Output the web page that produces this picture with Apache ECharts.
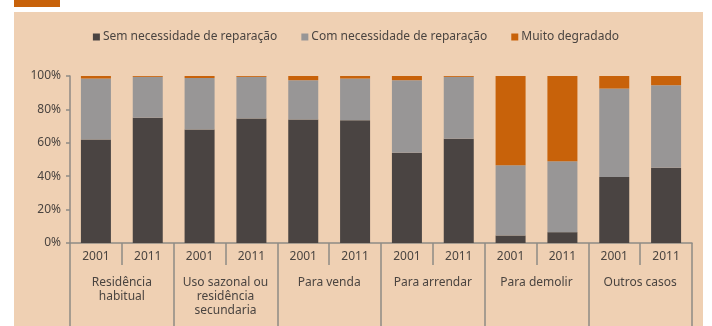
<!DOCTYPE html>
<html><head><meta charset="utf-8">
<script src="https://cdn.jsdelivr.net/npm/echarts@6/dist/echarts.min.js"></script>
<style>html,body{margin:0;padding:0;background:#fff}#c{width:712px;height:326px}</style>
</head><body><div id="c"></div>
<script>
const years = ['2001','2011','2001','2011','2001','2011','2001','2011','2001','2011','2001','2011'];
const groups = ['Residência\nhabitual','Uso sazonal ou\nresidência\nsecundaria','Para venda','Para arrendar','Para demolir','Outros casos'];
const seriesNames = ['Sem necessidade de reparação','Com necessidade de reparação','Muito degradado'];
const semReparacao = [62, 75, 68, 74.5, 74, 73.5, 54, 62.5, 4.5, 6.5, 39.5, 45];
const comReparacao = [36.5, 24.5, 30.8, 25, 23.5, 25, 43.5, 37, 42, 42.5, 53, 49.5];
const muitoDegradado = [1.5, 0.5, 1.2, 0.5, 2.5, 1.5, 2.5, 0.5, 53.5, 51, 7.5, 5.5];
const yTicks = [0, 20, 40, 60, 80, 100];

const colors = ['#4a4442', '#989696', '#c8620a'];
const txt = '#4a4440';
const axisCol = '#8f8a85';
const font = 'Noto Sans';

const chart = echarts.init(document.getElementById('c'), null, {renderer:'canvas'});
chart.setOption({
  backgroundColor: '#ffffff',
  color: colors,
  animation: false,
  textStyle: {fontFamily: font},
  graphic: [
    {type:'rect', z:-10, shape:{x:14, y:12, width:689, height:314}, style:{fill:'#efd0b3'}},
    {type:'rect', z:-10, shape:{x:14, y:0, width:46, height:7}, style:{fill:'#c8620a'}}
  ],
  legend: {
    top: 26, left: 'center',
    itemWidth: 7, itemHeight: 7, itemGap: 24,
    icon: 'rect',
    textStyle: {fontFamily: font, fontSize: 12, color: txt, padding:[0,0,0,-2]},
    data: seriesNames
  },
  grid: {left: 70, right: 20, top: 76, bottom: 83, containLabel: false},
  xAxis: [
    {
      type: 'category', data: years, position: 'bottom',
      axisLine: {show: true, lineStyle: {color: axisCol, width: 1.5}},
      axisTick: {show: true, interval: 0, length: 22, lineStyle: {color: axisCol, width: 1.5}},
      axisLabel: {interval: 0, margin: 8, fontFamily: font, fontSize: 12, color: txt}
    },
    {
      type: 'category', data: groups, position: 'bottom', offset: 0,
      axisLine: {show: false},
      axisTick: {show: true, interval: 0, length: 84, lineStyle: {color: axisCol, width: 1.5}},
      axisLabel: {interval: 0, margin: 33, fontFamily: font, fontSize: 12, color: txt, lineHeight: 14}
    }
  ],
  yAxis: {
    type: 'value', min: 0, max: 100, interval: 20,
    axisLine: {show: true, lineStyle: {color: axisCol, width: 1.5}},
    axisTick: {show: true, length: 4, lineStyle: {color: axisCol, width: 1.5}},
    splitLine: {show: false},
    axisLabel: {margin: 9, fontFamily: font, fontSize: 12, color: txt,
      formatter: v => yTicks.includes(v) ? v + '%' : ''}
  },
  series: [
    {name: seriesNames[0], type: 'bar', stack: 's', barWidth: 30, data: semReparacao, xAxisIndex: 0},
    {name: seriesNames[1], type: 'bar', stack: 's', barWidth: 30, data: comReparacao, xAxisIndex: 0},
    {name: seriesNames[2], type: 'bar', stack: 's', barWidth: 30, data: muitoDegradado, xAxisIndex: 0}
  ]
});
</script></body></html>
